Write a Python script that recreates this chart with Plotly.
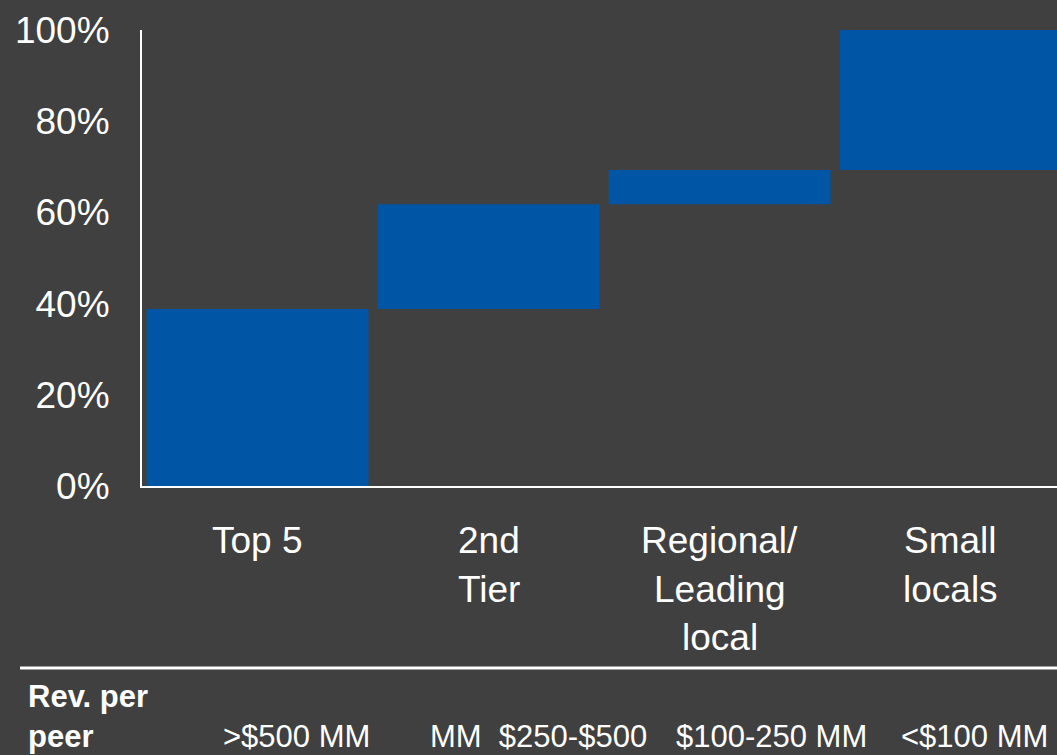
import plotly.graph_objects as go

# ---- data ----
categories = ["Top 5", "2nd<br>Tier", "Regional/<br>Leading<br>local", "Small<br>locals"]
shares = [38.8, 23.0, 7.5, 30.7]          # % of market per segment (waterfall steps)
rev_label = ["Rev. per", "peer"]
rev_values = [">$500 MM", "MM\u00a0 $250-$500", "$100-250 MM", "<$100 MM"]
tick_vals = [0, 20, 40, 60, 80, 100]
tick_text = ["0%", "20%", "40%", "60%", "80%", "100%"]

# ---- styling ----
BG = "#404040"
BLUE = "#0055A5"
FONT = "Liberation Sans, Arial, sans-serif"
W, H = 1057, 755
L, R, T, B = 142, 0, 30, 269
PW, PH = W - L - R, H - T - B

def px_x(p):
    return (p - L) / PW

def px_y(p):
    return (H - B - p) / PH

bases = []
acc = 0.0
for s in shares:
    bases.append(acc)
    acc += s
xs = list(range(len(categories)))

fig = go.Figure()
fig.add_trace(go.Bar(
    x=xs, y=shares, base=bases, width=0.96,
    marker=dict(color=BLUE, line=dict(width=0)),
    hoverinfo="skip", showlegend=False,
))

annotations = []
# category labels (one annotation per line)
line_mid = [540, 589, 637]
for i, cat in enumerate(categories):
    for j, line in enumerate(cat.split("<br>")):
        annotations.append(dict(
            x=i, xref="x", y=px_y(line_mid[j]), yref="paper",
            text=line, showarrow=False, xanchor="center", yanchor="middle",
            font=dict(family=FONT, size=37, color="white"),
        ))

# bottom row
bottom_mid = [696, 736]
for j, t in enumerate(rev_label):
    annotations.append(dict(
        x=px_x(26), xref="paper", y=px_y(bottom_mid[j]), yref="paper",
        text="<b>%s</b>" % t, showarrow=False, xanchor="left", yanchor="middle",
        font=dict(family=FONT, size=31, color="white"),
    ))
val_left = [221, 428, 674, 899]
for k, t in enumerate(rev_values):
    annotations.append(dict(
        x=px_x(val_left[k]), xref="paper", y=px_y(bottom_mid[1]), yref="paper",
        text=t, showarrow=False, xanchor="left", yanchor="middle",
        font=dict(family=FONT, size=31, color="white"),
    ))

fig.update_layout(
    width=W, height=H,
    margin=dict(l=L, r=R, t=T, b=B, pad=0),
    paper_bgcolor=BG, plot_bgcolor=BG,
    font=dict(family=FONT, color="white"),
    bargap=0.04,
    annotations=annotations,
    shapes=[dict(
        type="line", xref="paper", yref="paper",
        x0=px_x(20), x1=1.02, y0=px_y(668), y1=px_y(668),
        line=dict(color="white", width=3),
    )],
    xaxis=dict(
        range=[-0.5, 3.46], showticklabels=False, showgrid=False, zeroline=False,
        showline=True, linecolor="white", linewidth=2, ticks="", fixedrange=True,
    ),
    yaxis=dict(
        range=[0, 100], tickvals=tick_vals, ticktext=tick_text,
        showgrid=False, zeroline=False, showline=True, linecolor="white",
        linewidth=2, ticks="", ticklabelstandoff=23,
        tickfont=dict(family=FONT, size=37, color="white"), fixedrange=True,
    ),
)

fig.write_html(
    "out.html",
    config={"displayModeBar": False},
    post_script="document.body.style.margin='0px';document.body.style.background='%s';" % BG,
)
